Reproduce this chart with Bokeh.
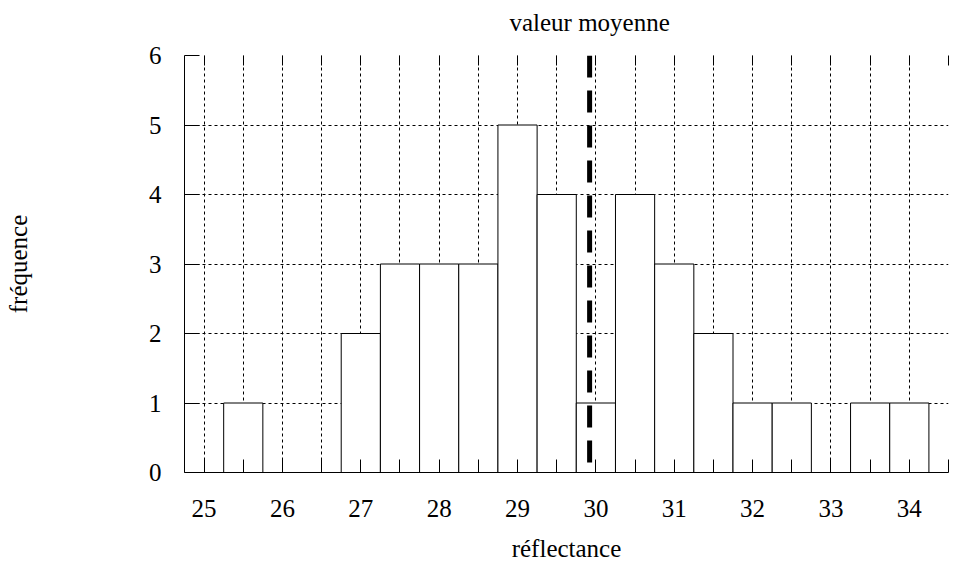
from bokeh.plotting import figure
from bokeh.models import FixedTicker, LinearAxis, Range1d, ColumnDataSource
from bokeh.embed import file_html
from bokeh.resources import INLINE

# ---- data ----
bin_centers = [25.5, 26.0, 26.5, 27.0, 27.5, 28.0, 28.5, 29.0, 29.5,
               30.0, 30.5, 31.0, 31.5, 32.0, 32.5, 33.0, 33.5, 34.0]
counts = [1, 0, 0, 2, 3, 3, 3, 5, 4, 1, 4, 3, 2, 1, 1, 0, 1, 1]
bin_width = 0.5
mean_value = 29.92
mean_label = "valeur moyenne"
x_ticks = [25, 26, 27, 28, 29, 30, 31, 32, 33, 34]
x_minor_ticks = [25.5, 26.5, 27.5, 28.5, 29.5, 30.5, 31.5, 32.5, 33.5, 34.5]
y_ticks = [0, 1, 2, 3, 4, 5, 6]
x_start, x_end = 24.75, 34.5
y_start, y_end = 0, 6

FONT = "Liberation Serif"
FS = "25px"

src = ColumnDataSource(dict(
    left=[c - bin_width / 2 for c in bin_centers],
    right=[c + bin_width / 2 for c in bin_centers],
    top=counts,
))

p = figure(width=957, height=573, output_backend="svg", toolbar_location=None,
           x_range=Range1d(x_start, x_end), y_range=Range1d(y_start, y_end),
           min_border_left=184, min_border_right=9, min_border_top=55,
           min_border_bottom=101)
p.outline_line_color = None
p.background_fill_color = "white"
p.border_fill_color = "white"

# grid
grid_x = sorted(x_ticks + x_minor_ticks)
p.xgrid.ticker = FixedTicker(ticks=grid_x)
p.ygrid.ticker = FixedTicker(ticks=y_ticks[1:])
for g in (p.xgrid, p.ygrid):
    g.grid_line_color = "black"
    g.grid_line_dash = "3 3"
    g.grid_line_width = 1
    g.grid_line_alpha = 1.0

# bars
p.quad(left="left", right="right", bottom=0, top="top", source=src,
       fill_color="white", line_color="black", line_width=1)

# mean line
p.line(x=[mean_value, mean_value], y=[y_end, y_start], line_color="black",
       line_width=5, line_dash="22 13")

# bottom axis
xa = p.xaxis[0]
xa.ticker = FixedTicker(ticks=x_ticks, minor_ticks=x_minor_ticks)
xa.major_tick_in = 13
xa.major_tick_out = 0
xa.minor_tick_in = 13
xa.minor_tick_out = 0
xa.major_label_standoff = 27
xa.major_label_text_font = FONT
xa.major_label_text_font_size = FS
xa.major_label_text_color = "black"
xa.axis_line_color = "black"
xa.major_tick_line_color = "black"
xa.minor_tick_line_color = "black"
xa.axis_label = "réflectance"
xa.axis_label_text_font = FONT
xa.axis_label_text_font_size = FS
xa.axis_label_text_font_style = "normal"
xa.axis_label_text_color = "black"
xa.axis_label_standoff = 15

# left axis
ya = p.yaxis[0]
ya.ticker = FixedTicker(ticks=y_ticks)
ya.major_tick_in = 15
ya.major_tick_out = 0
ya.minor_tick_in = 0
ya.minor_tick_out = 0
ya.major_label_standoff = 23
ya.major_label_text_font = FONT
ya.major_label_text_font_size = FS
ya.major_label_text_color = "black"
ya.axis_line_color = "black"
ya.major_tick_line_color = "black"
ya.axis_label = "fréquence"
ya.axis_label_text_font = FONT
ya.axis_label_text_font_size = FS
ya.axis_label_text_font_style = "normal"
ya.axis_label_text_color = "black"
ya.axis_label_standoff = 114

# top axis: inward ticks at every half unit, and the mean-value caption
top_axis = LinearAxis(ticker=FixedTicker(ticks=[mean_value],
                                         minor_ticks=sorted(x_ticks + x_minor_ticks)),
                      major_label_overrides={mean_value: mean_label})
top_axis.major_tick_in = 0
top_axis.major_tick_out = 0
top_axis.minor_tick_in = 10
top_axis.minor_tick_out = 0
top_axis.major_label_standoff = 20
top_axis.major_label_text_font = FONT
top_axis.major_label_text_font_size = FS
top_axis.major_label_text_color = "black"
top_axis.axis_line_color = None
top_axis.minor_tick_line_color = "black"
p.add_layout(top_axis, "above")

open("out.html", "w").write(file_html(p, INLINE))
